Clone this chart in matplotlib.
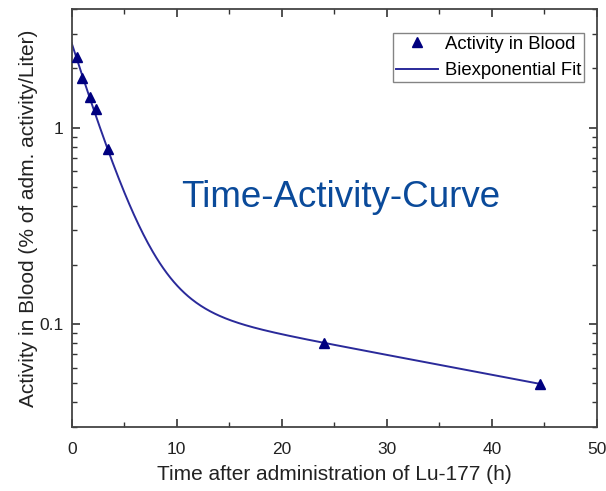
import numpy as np
import matplotlib
matplotlib.use("Agg")
import matplotlib.pyplot as plt
from matplotlib.ticker import MultipleLocator, LogLocator, FixedLocator, NullFormatter

plt.rcParams['font.family'] = ['Liberation Sans', 'DejaVu Sans']

# measured blood activity
time_h = [0.5, 1.0, 1.7, 2.3, 3.5, 24.0, 44.6]
activity = [2.28, 1.79, 1.43, 1.25, 0.78, 0.080, 0.0495]

# biexponential fit parameters
fit_A, fit_a = 2.55, 0.40
fit_B, fit_b = 0.140, 0.0233

t_fit = np.linspace(0, 44.6, 400)
y_fit = fit_A * np.exp(-fit_a * t_fit) + fit_B * np.exp(-fit_b * t_fit)

fig = plt.figure(figsize=(6.06, 4.91), dpi=100)
ax = fig.add_axes([0.1183, 0.131, 0.8667, 0.850])

ax.plot(t_fit, y_fit, color='#2a2a9a', lw=1.4, label='Biexponential Fit', zorder=2)
ax.plot(time_h, activity, '^', color='#00007f', ms=6.5, ls='none', label='Activity in Blood', zorder=3)

ax.set_yscale('log')
ax.set_xlim(0, 50)
ax.set_ylim(0.03, 4)

ax.xaxis.set_major_locator(MultipleLocator(10))
ax.xaxis.set_minor_locator(MultipleLocator(5))
ax.yaxis.set_major_locator(FixedLocator([0.1, 1]))
ax.set_yticklabels(['0.1', '1'])
ax.yaxis.set_minor_locator(LogLocator(base=10, subs=np.arange(2, 10)))
ax.yaxis.set_minor_formatter(NullFormatter())

ax.tick_params(which='both', direction='in', top=True, right=True, colors='#333333',
               labelcolor='#222222', labelsize=12.5)
ax.tick_params(axis='x', which='major', pad=11)
ax.tick_params(axis='y', which='major', pad=6)
ax.tick_params(which='major', length=6, width=1.2)
ax.tick_params(which='minor', length=3.5, width=1.0)
for s in ax.spines.values():
    s.set_color('#444444')
    s.set_linewidth(1.3)

ax.set_xlabel('Time after administration of Lu-177 (h)', fontsize=15, color='#222222', labelpad=6)
ax.set_ylabel('Activity in Blood (% of adm. activity/Liter)', fontsize=15, color='#222222', labelpad=1)

handles, labels = ax.get_legend_handles_labels()
leg = ax.legend(handles[::-1], labels[::-1], loc='upper right', fontsize=13.3, frameon=True,
                fancybox=False, edgecolor='#666666', borderpad=0.15, borderaxespad=0,
                handlelength=2.3, handletextpad=0.35, labelspacing=0.5,
                bbox_to_anchor=(0.975, 0.943))
leg.get_frame().set_linewidth(1.0)

ax.text(0.513, 0.55, 'Time-Activity-Curve', transform=ax.transAxes, fontsize=26.5,
        color='#0a4a9a', ha='center', va='center')

fig.savefig('out.png', dpi=100)
